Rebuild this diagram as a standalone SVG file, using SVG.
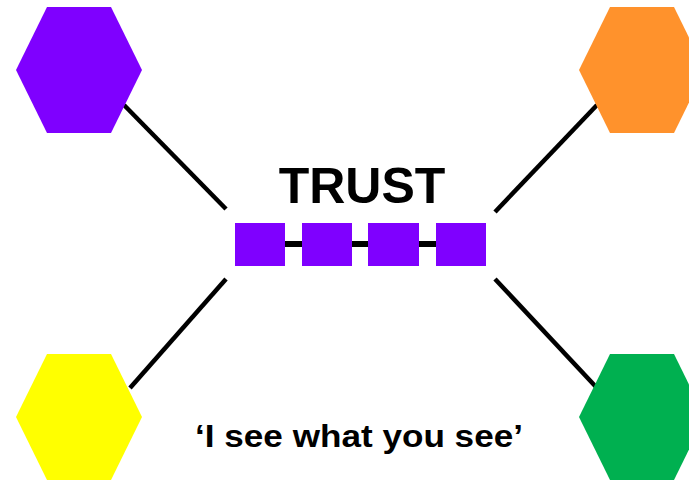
<svg xmlns="http://www.w3.org/2000/svg" width="689" height="482" viewBox="0 0 689 482">
<style>
.lnk{stroke:#000;stroke-width:4.5;stroke-linecap:butt;fill:none}
.sq{fill:#7F00FF}
.t{font-family:"Liberation Sans",Arial,sans-serif;font-weight:bold;fill:#000}
</style>
<rect width="689" height="482" fill="#fff"/>
<g id="connectors">
<line class="lnk" x1="124" y1="105" x2="226" y2="209"/>
<line class="lnk" x1="597" y1="105" x2="495" y2="212"/>
<line class="lnk" x1="130" y1="388" x2="226" y2="279"/>
<line class="lnk" x1="597" y1="388" x2="495" y2="279"/>
<line x1="285" y1="244" x2="436" y2="244" stroke="#000" stroke-width="6"/>
</g>
<g id="hex-purple"><polygon points="47,7 111,7 142,70 111,133 47,133 16,70" fill="#7F00FF"/></g>
<g id="hex-orange"><polygon points="610,7 674,7 705,70 674,133 610,133 579,70" fill="#FF922C"/></g>
<g id="hex-yellow"><polygon points="47,354 111,354 142,417 111,480 47,480 16,417" fill="#FFFF00"/></g>
<g id="hex-green"><polygon points="610,354 674,354 705,417 674,480 610,480 579,417" fill="#00B050"/></g>
<g id="trust">
<text class="t" x="362" y="203" font-size="50" text-anchor="middle">TRUST</text>
<rect class="sq" x="235" y="223" width="50" height="43"/>
<rect class="sq" x="302" y="223" width="50" height="43"/>
<rect class="sq" x="368" y="223" width="51" height="43"/>
<rect class="sq" x="436" y="223" width="50" height="43"/>
</g>
<g id="caption">
<text class="t" x="195" y="447" font-size="31" textLength="328" lengthAdjust="spacingAndGlyphs">‘I see what you see’</text>
</g>
</svg>
